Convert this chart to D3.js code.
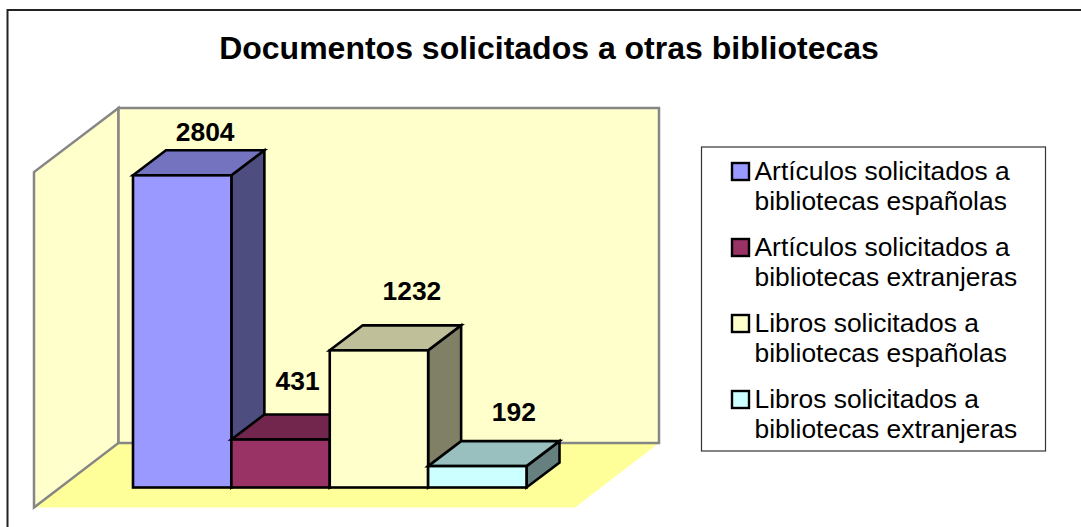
<!DOCTYPE html>
<html>

<head>
    <meta charset="utf-8">
    <title>Documentos solicitados</title>
    <script src="https://d3js.org/d3.v7.min.js"></script>
    <style>
        body { margin: 0; background: #fff; overflow: hidden; }
        text { font-family: "Liberation Sans", Arial, sans-serif; fill: #000; }
    </style>
</head>

<body>
    <svg width="1081" height="527" id="mainsvg"></svg>
    <script>
        const titleText = 'Documentos solicitados a otras bibliotecas';
        const categories = [
            ['Artículos solicitados a', 'bibliotecas españolas'],
            ['Artículos solicitados a', 'bibliotecas extranjeras'],
            ['Libros solicitados a', 'bibliotecas españolas'],
            ['Libros solicitados a', 'bibliotecas extranjeras']
        ];
        const values = [2804, 431, 1232, 192];
        const colors = ['#9999ff', '#993366', '#ffffcc', '#ccffff'];

        const svg = d3.select('#mainsvg');

        // 3d projection of the chart box
        const depthX = 33, depthY = -25;
        const baseY = 487.5;
        const xScale = d3.scaleBand().domain(d3.range(values.length)).range([133, 526.5]);
        const yScale = d3.scaleLinear().domain([0, 3000]).range([baseY, baseY - 334]);

        const poly = pts => d3.line()(pts) + 'Z';
        const shade = (col, k) => {
            const c = d3.rgb(col);
            return d3.rgb(c.r * k, c.g * k, c.b * k).formatHex();
        };

        // frame, only top and left are inside the crop
        svg.append('path').attr('d', 'M7.5,527V10H1081')
            .attr('fill', 'none').attr('stroke', '#222').attr('stroke-width', 2);

        // floor and walls
        const wall = { l: 118.5, r: 659, t: 108, b: 443, fx: 34, fy: 507.5, tx: 34, ty: 172 };
        svg.append('path')
            .attr('d', poly([[wall.fx, wall.fy], [wall.l, wall.b], [wall.r, wall.b], [575, wall.fy]]))
            .attr('fill', '#ffff99');
        svg.append('path')
            .attr('d', poly([[wall.fx, wall.fy], [wall.tx, wall.ty], [wall.l, wall.t], [wall.l, wall.b]]))
            .attr('fill', '#ffffcc').attr('stroke', '#868686').attr('stroke-width', 2.5);
        svg.append('path')
            .attr('d', poly([[wall.l, wall.t], [wall.r, wall.t], [wall.r, wall.b], [wall.l, wall.b]]))
            .attr('fill', '#ffffcc').attr('stroke', '#868686').attr('stroke-width', 2.5);

        // bars, left to right so the next one covers the side of the previous
        const bars = svg.append('g').selectAll('g').data(values).join('g')
            .attr('stroke', '#000').attr('stroke-width', 2.6);

        bars.append('path') // side
            .attr('d', (d, i) => {
                const x1 = xScale(i) + xScale.bandwidth(), y0 = yScale(d);
                return poly([[x1, baseY], [x1, y0], [x1 + depthX, y0 + depthY], [x1 + depthX, baseY + depthY]]);
            })
            .attr('fill', (d, i) => shade(colors[i], 0.5));
        bars.append('path') // top
            .attr('d', (d, i) => {
                const x0 = xScale(i), x1 = x0 + xScale.bandwidth(), y0 = yScale(d);
                return poly([[x0, y0], [x0 + depthX, y0 + depthY], [x1 + depthX, y0 + depthY], [x1, y0]]);
            })
            .attr('fill', (d, i) => shade(colors[i], 0.75));
        bars.append('rect') // front
            .attr('x', (d, i) => xScale(i))
            .attr('y', d => yScale(d))
            .attr('width', xScale.bandwidth())
            .attr('height', d => baseY - yScale(d))
            .attr('fill', (d, i) => colors[i]);

        // value labels sit where the original chart left them, not at a fixed offset
        const labelDx = [23, 17, 33, 36.5];
        const labelDy = [34, 49.5, 50, 45];
        svg.append('g').selectAll('text').data(values).join('text')
            .attr('x', (d, i) => xScale(i) + xScale.bandwidth() / 2 + labelDx[i])
            .attr('y', (d, i) => yScale(d) - labelDy[i])
            .attr('text-anchor', 'middle')
            .attr('font-size', 26.4).attr('font-weight', 'bold')
            .text(d => d);

        svg.append('text')
            .attr('x', 549).attr('y', 59)
            .attr('text-anchor', 'middle')
            .attr('font-size', 32).attr('font-weight', 'bold')
            .text(titleText);

        // legend
        svg.append('rect')
            .attr('x', 701.5).attr('y', 147).attr('width', 344).attr('height', 304)
            .attr('fill', '#fff').attr('stroke', '#333').attr('stroke-width', 1.2);

        const legendY = d3.scalePoint().domain(d3.range(categories.length)).range([0, 228]);
        const items = svg.append('g').selectAll('g').data(categories).join('g')
            .attr('transform', (d, i) => `translate(732, ${legendY(i)})`);
        items.append('rect')
            .attr('x', 0).attr('y', 163).attr('width', 17).attr('height', 17)
            .attr('fill', (d, i) => colors[i])
            .attr('stroke', '#000').attr('stroke-width', 2.4);
        items.selectAll('text').data(d => d).join('text')
            .attr('x', 22.5)
            .attr('y', (d, j) => 179.5 + j * 30)
            .attr('font-size', 26.4)
            .text(d => d);
    </script>
</body>

</html>
